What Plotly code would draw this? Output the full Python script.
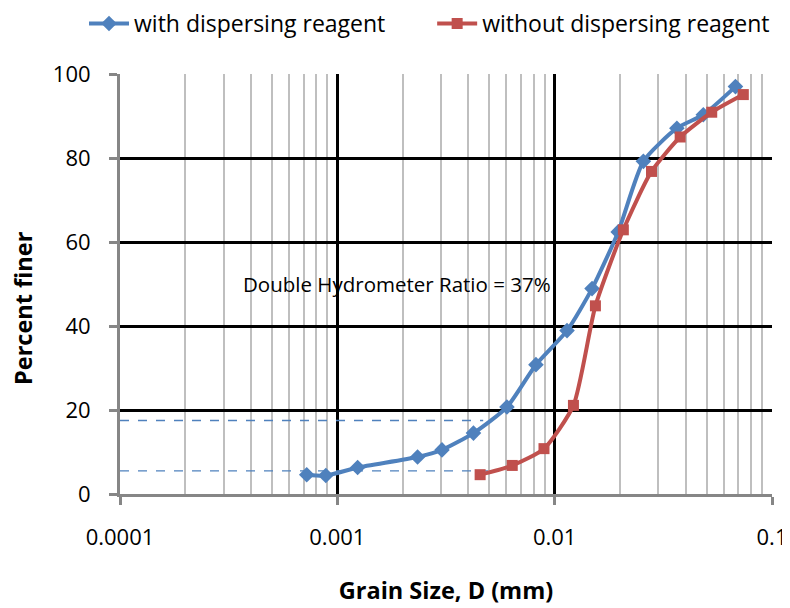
import plotly.graph_objects as go

# Data
with_d = [0.000723, 0.000885, 0.00124, 0.00234, 0.00303, 0.00423, 0.00603,
          0.0082, 0.0114, 0.01486, 0.0196, 0.0256, 0.0365, 0.0483, 0.0679]
with_p = [4.6, 4.4, 6.3, 8.8, 10.5, 14.5, 20.7, 30.8, 38.9, 48.9, 62.4,
          79.2, 87.1, 90.3, 97.0]

without_d = [0.00454, 0.00638, 0.00893, 0.0122, 0.0154, 0.0207, 0.0279,
             0.0378, 0.0528, 0.0738]
without_p = [4.6, 6.8, 10.8, 21.1, 44.8, 62.9, 76.8, 85.0, 90.9, 95.1]

# Reference dashed lines (percent finer levels and their right ends)
dash_levels = [17.5, 5.5]
dash_x_start = 0.0001
dash_x_end = [0.00469, 0.00493]

x_tickvals = [0.0001, 0.001, 0.01, 0.1]
x_ticktext = ["0.0001", "0.001", "0.01", "0.1"]
y_tickvals = [0, 20, 40, 60, 80, 100]

BLUE = "#4F81BD"
RED = "#C0504D"
FONT = "Open Sans, sans-serif"

fig = go.Figure()

for lvl, xe in zip(dash_levels, dash_x_end):
    fig.add_trace(go.Scatter(x=[dash_x_start, xe], y=[lvl, lvl], mode="lines",
                             line=dict(color=BLUE, width=1.3, dash="dash"),
                             showlegend=False, hoverinfo="skip"))

fig.add_trace(go.Scatter(x=with_d, y=with_p, mode="lines+markers",
                         name="with dispersing reagent", legend="legend",
                         line=dict(color=BLUE, width=4, shape="spline", smoothing=0.6),
                         marker=dict(symbol="diamond", size=12, color=BLUE)))
fig.add_trace(go.Scatter(x=without_d, y=without_p, mode="lines+markers",
                         name="without dispersing reagent", legend="legend2",
                         line=dict(color=RED, width=4, shape="spline", smoothing=0.6),
                         marker=dict(symbol="square", size=11, color=RED)))

fig.add_annotation(x=-2.725, y=50.1, xref="x", yref="y",
                   text="Double Hydrometer Ratio = 37%", showarrow=False,
                   font=dict(family=FONT, size=20.5, color="black"))

# y-axis title
fig.add_annotation(x=-0.1488, y=0.4429, xref="paper", yref="paper",
                   text="<b>Percent finer</b>", textangle=-90, showarrow=False,
                   xanchor="center", yanchor="middle",
                   font=dict(family=FONT, size=23.5, color="black"))

fig.update_xaxes(type="log", range=[-4, -1], tickvals=x_tickvals, ticktext=x_ticktext,
                 showgrid=True, gridcolor="black", gridwidth=3,
                 minor=dict(dtick="D1", showgrid=True, gridcolor="#BFBFBF", gridwidth=2,
                            ticks=""),
                 showline=True, linecolor="#868686", linewidth=3,
                 ticks="outside", ticklen=8, tickwidth=3, tickcolor="#868686",
                 ticklabelstandoff=14,
                 tickfont=dict(family=FONT, size=22, color="black"),
                 title=dict(text="<b>Grain Size, D (mm)</b>", standoff=33,
                            font=dict(family=FONT, size=23.5, color="black")),
                 zeroline=False)
fig.update_yaxes(range=[0, 100], tickvals=y_tickvals,
                 showgrid=True, gridcolor="black", gridwidth=3,
                 showline=True, linecolor="#868686", linewidth=3,
                 ticks="outside", ticklen=8, tickwidth=3, tickcolor="#868686",
                 ticklabelstandoff=14,
                 tickfont=dict(family=FONT, size=22, color="black"),
                 zeroline=False)

legend_common = dict(orientation="h", xanchor="left", xref="container",
                     y=1.1714, yanchor="top", yref="paper",
                     font=dict(family=FONT, size=23, color="black"),
                     itemwidth=40, bgcolor="rgba(0,0,0,0)")

fig.update_layout(width=782, height=600,
                  margin=dict(l=112, r=18, t=66, b=114, autoexpand=False),
                  plot_bgcolor="white", paper_bgcolor="white",
                  legend=dict(x=0.0972, **legend_common),
                  legend2=dict(x=0.5424, **legend_common),
                  showlegend=True)

fig.write_html("out.html")
